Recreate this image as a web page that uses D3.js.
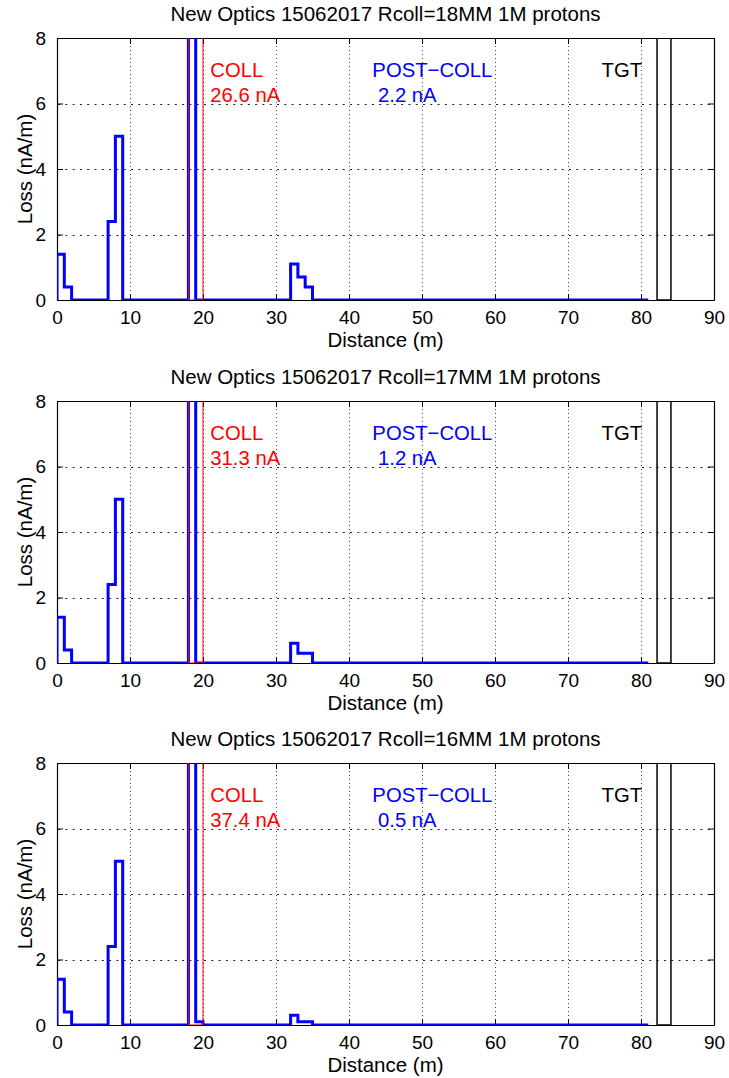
<!DOCTYPE html>
<html>
<head>
<meta charset="utf-8">
<script src="https://cdn.jsdelivr.net/npm/d3@7"></script>
<style>
  body { margin: 0; background: #fff; }
  text { font-family: "Liberation Sans", Arial, sans-serif; }
</style>
</head>
<body>
<div id="chart"></div>
<script>
// one entry per panel
var titles = [
  "New Optics 15062017 Rcoll=18MM 1M protons",
  "New Optics 15062017 Rcoll=17MM 1M protons",
  "New Optics 15062017 Rcoll=16MM 1M protons"
];
var collLoss = ["26.6 nA", "31.3 nA", "37.4 nA"];
var postLoss = [" 2.2 nA", " 1.2 nA", " 0.5 nA"];

// non zero bins [start, end, loss nA/m], everything else is 0 up to lossEnd
var bins18 = [[0,1,1.4],[1,2,0.4],[7,8,2.4],[8,9,5],[18,19,20],[32,33,1.1],[33,34,0.7],[34,35,0.4]];
var bins17 = [[0,1,1.4],[1,2,0.4],[7,8,2.4],[8,9,5],[18,19,20],[32,33,0.6],[33,35,0.3]];
var bins16 = [[0,1,1.4],[1,2,0.4],[7,8,2.4],[8,9,5],[18,19,20],[19,20,0.1],[32,33,0.3],[33,35,0.1]];
var panelBins = [bins18, bins17, bins16];
var lossEnd = 81;

// collimator and target extents (m)
var coll = [18, 20];
var tgt = [82.2, 84.1];

var xTicks = [0,10,20,30,40,50,60,70,80,90];
var yTicks = [0,2,4,6,8];
var labelX = [21, 43.2, 74.6];
var labelY = 6.8;

var W = 729, H = 1078;
var left = 57, plotW = 657, plotH = 262, top0 = 38, step = 362.5;

var svg = d3.select("#chart").append("svg")
  .attr("width", W).attr("height", H);

var x = d3.scaleLinear().domain([0, 90]).range([0, plotW]);
var y = d3.scaleLinear().domain([0, 8]).range([plotH, 0]);

svg.append("defs").append("clipPath").attr("id", "clip")
  .append("rect").attr("width", plotW).attr("height", plotH);

function stepPoints(bins){
  var pts = [[0,0]], last = 0;
  bins.forEach(function(b){
    if (b[0] > last) pts.push([last,0],[b[0],0]);
    pts.push([b[0],b[2]],[b[1],b[2]]);
    last = b[1];
  });
  pts.push([last,0],[lossEnd,0]);
  return pts;
}

var line = d3.line().x(function(d){ return x(d[0]); }).y(function(d){ return y(d[1]); });

titles.forEach(function(t, i){
  var top = Math.round(top0 + i*step);
  var g = svg.append("g").attr("transform", "translate(" + left + "," + top + ")");

  // grid (dotted)
  g.append("g").selectAll("line").data(xTicks.slice(1, -1)).enter().append("line")
    .attr("x1", function(d){ return Math.round(x(d)) + 0.5; })
    .attr("x2", function(d){ return Math.round(x(d)) + 0.5; })
    .attr("y1", 0).attr("y2", plotH)
    .attr("stroke", "#444").attr("stroke-width", 1).attr("stroke-dasharray", "1,3");
  g.append("g").selectAll("line").data(yTicks.slice(1, -1)).enter().append("line")
    .attr("y1", function(d){ return Math.round(y(d)) + 0.5; })
    .attr("y2", function(d){ return Math.round(y(d)) + 0.5; })
    .attr("x1", 1).attr("x2", plotW)
    .attr("stroke", "#222").attr("stroke-width", 1.2).attr("stroke-dasharray", "2,5.3");

  // axes with inward ticks on all sides
  var xb = g.append("g").attr("transform", "translate(0," + plotH + ")")
    .call(d3.axisBottom(x).tickValues(xTicks).tickSizeInner(-6).tickSizeOuter(0).tickPadding(11));
  var xt = g.append("g")
    .call(d3.axisTop(x).tickValues(xTicks).tickSizeInner(-6).tickSizeOuter(0).tickFormat(""));
  var yl = g.append("g")
    .call(d3.axisLeft(y).tickValues(yTicks).tickSizeInner(-6).tickSizeOuter(0).tickPadding(11));
  var yr = g.append("g").attr("transform", "translate(" + plotW + ",0)")
    .call(d3.axisRight(y).tickValues(yTicks).tickSizeInner(-6).tickSizeOuter(0).tickFormat(""));
  [xb, xt, yl, yr].forEach(function(a){
    a.select(".domain").attr("stroke", "#000").attr("stroke-width", 1.2);
    a.selectAll(".tick line").attr("stroke", "#000");
    a.selectAll("text").attr("font-size", "19px").attr("fill", "#000")
      .style("font-family", "'Liberation Sans', Arial, sans-serif");
  });
  xb.selectAll(".tick text").attr("dy", "0.71em");

  var plot = g.append("g").attr("clip-path", "url(#clip)");

  // target
  plot.append("rect")
    .attr("x", x(tgt[0])).attr("width", x(tgt[1]) - x(tgt[0]))
    .attr("y", y(8) - 5).attr("height", plotH + 5)
    .attr("fill", "none").attr("stroke", "#000").attr("stroke-width", 1.5);

  // loss
  plot.append("path").datum(stepPoints(panelBins[i]))
    .attr("d", line).attr("fill", "none")
    .attr("stroke", "#0000ff").attr("stroke-width", 3);

  // collimator
  plot.append("rect")
    .attr("x", x(coll[0])).attr("width", x(coll[1]) - x(coll[0]))
    .attr("y", -5).attr("height", y(0) + 5)
    .attr("fill", "none").attr("stroke", "#ff0000").attr("stroke-width", 1);

  // annotations
  var ann = [
    {x: labelX[0], l1: "COLL", l2: collLoss[i], c: "#ff0000"},
    {x: labelX[1], l1: "POST\u2212COLL", l2: postLoss[i], c: "#0000ff"},
    {x: labelX[2], l1: "TGT", l2: "", c: "#000"}
  ];
  var at = g.append("g").selectAll("text").data(ann).enter().append("text")
    .attr("x", function(d){ return x(d.x); }).attr("y", y(labelY))
    .attr("font-size", "20.3px").attr("fill", function(d){ return d.c; })
    .style("white-space", "pre");
  at.append("tspan").text(function(d){ return d.l1; });
  at.append("tspan").attr("x", function(d){ return x(d.x); }).attr("dy", 25)
    .text(function(d){ return d.l2; });

  // labels
  g.append("text").attr("x", plotW/2).attr("y", -17)
    .attr("text-anchor", "middle").attr("font-size", "20.5px").text(t);
  g.append("text").attr("x", plotW/2).attr("y", plotH + 47)
    .attr("text-anchor", "middle").attr("font-size", "20.5px").text("Distance (m)");
  g.append("text").attr("transform", "translate(" + (-25) + "," + (plotH/2) + ") rotate(-90)")
    .attr("text-anchor", "middle").attr("font-size", "20.5px").text("Loss (nA/m)");
});
</script>
</body>
</html>
